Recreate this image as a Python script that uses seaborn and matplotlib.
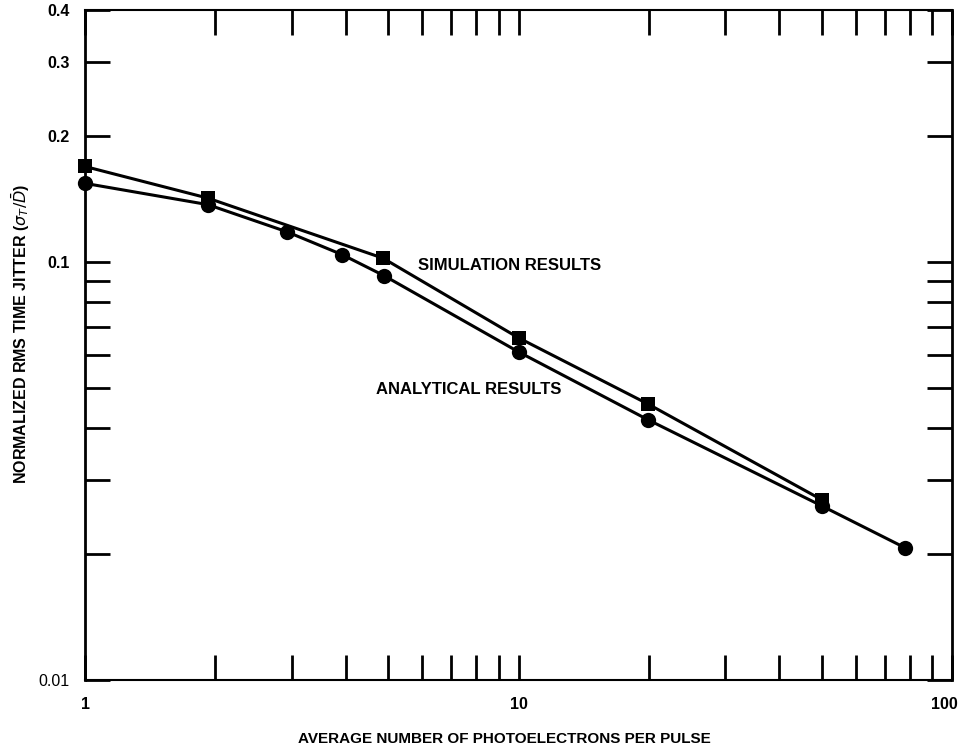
import matplotlib
matplotlib.use("Agg")
import matplotlib.pyplot as plt
import matplotlib.transforms as mtransforms
import seaborn as sns
import pandas as pd
from matplotlib.ticker import FixedLocator, NullFormatter, FixedFormatter

sns.set_theme(style="white")
plt.rcParams['font.family'] = ['Liberation Sans', 'DejaVu Sans']

# Data
sim_x = [1.0, 1.92, 4.87, 10.0, 19.9, 50.0]
sim_y = [0.169, 0.142, 0.102, 0.0658, 0.0457, 0.0270]
ana_x = [1.0, 1.92, 2.92, 3.92, 4.9, 10.0, 19.9, 50.0, 78.0]
ana_y = [0.154, 0.137, 0.118, 0.104, 0.0926, 0.0609, 0.0419, 0.0261, 0.0207]

y_tick_vals = [0.01, 0.1, 0.2, 0.3, 0.4]
y_tick_labels = ["0.01", "0.1", "0.2", "0.3", "0.4"]
y_minor_vals = [0.02, 0.03, 0.04, 0.05, 0.06, 0.07, 0.08, 0.09]
x_tick_vals = [1, 10, 100]
x_tick_labels = ["1", "10", "100"]
x_minor_vals = [2, 3, 4, 5, 6, 7, 8, 9, 20, 30, 40, 50, 60, 70, 80, 90]

sim_df = pd.DataFrame({"x": sim_x, "y": sim_y})
ana_df = pd.DataFrame({"x": ana_x, "y": ana_y})

fig = plt.figure(figsize=(9.6, 7.53), dpi=100)
ax = fig.add_axes([85/960, 1-680/753, (952-85)/960, 670/753])

sns.lineplot(data=sim_df, x="x", y="y", ax=ax, color="black", lw=2.2,
             marker="s", markersize=10, markeredgecolor="black", markeredgewidth=0,
             clip_on=False)
sns.lineplot(data=ana_df, x="x", y="y", ax=ax, color="black", lw=2.2,
             marker="o", markersize=11, markeredgecolor="black", markeredgewidth=0,
             clip_on=False)

ax.set_xscale("log")
ax.set_yscale("log")
ax.set_xlim(1, 100)
ax.set_ylim(0.01, 0.4)

ax.xaxis.set_major_locator(FixedLocator(x_tick_vals))
ax.xaxis.set_major_formatter(FixedFormatter(x_tick_labels))
ax.xaxis.set_minor_locator(FixedLocator(x_minor_vals))
ax.xaxis.set_minor_formatter(NullFormatter())
ax.yaxis.set_major_locator(FixedLocator(y_tick_vals))
ax.yaxis.set_major_formatter(FixedFormatter(y_tick_labels))
ax.yaxis.set_minor_locator(FixedLocator(y_minor_vals))
ax.yaxis.set_minor_formatter(NullFormatter())

ax.tick_params(axis="x", which="both", direction="in", top=True, bottom=True,
               length=18, width=2, color="black", pad=12, labelsize=11.5)
ax.tick_params(axis="y", which="both", direction="in", left=True, right=True,
               length=18, width=2, color="black", pad=11, labelsize=11.5)
for lab in ax.get_xticklabels() + ax.get_yticklabels():
    lab.set_fontweight("bold")
    lab.set_color("black")
ax.get_yticklabels()[0].set_fontweight("normal")

# keep the "100" label inside the figure, as in the reference
last = ax.get_xticklabels()[-1]
last.set_horizontalalignment("right")
last.set_transform(last.get_transform() + mtransforms.ScaledTranslation(6/100, 0, fig.dpi_scale_trans))

for s in ax.spines.values():
    s.set_color("black")
    s.set_linewidth(2)
ax.spines["bottom"].set_linewidth(1.5)
ax.spines["top"].set_linewidth(1.5)

ax.set_xlabel("")
ax.set_ylabel("")
fig.text(504/960, 1-739/753, "AVERAGE NUMBER OF PHOTOELECTRONS PER PULSE", fontsize=11,
         fontweight="bold", color="black", ha="center", va="center")
fig.text(21/960, 1-334/753, r"NORMALIZED RMS TIME JITTER ($\sigma_T/\bar{D}$)", fontsize=11.5,
         fontweight="bold", color="black", ha="center", va="center", rotation=90)

ax.text(0.490, 0.619, "SIMULATION RESULTS", transform=ax.transAxes, fontsize=12,
        fontweight="bold", color="black", ha="center", va="center")
ax.text(0.442, 0.433, "ANALYTICAL RESULTS", transform=ax.transAxes, fontsize=12,
        fontweight="bold", color="black", ha="center", va="center")

fig.savefig("out.png", dpi=100)
